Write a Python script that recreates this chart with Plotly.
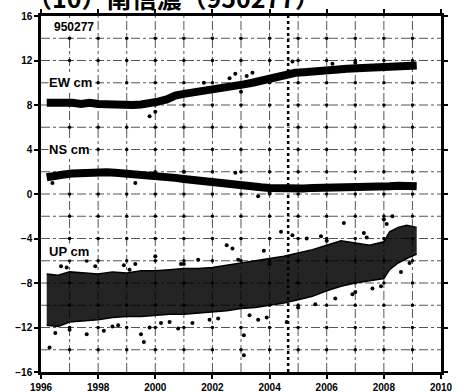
import plotly.graph_objects as go

# ---- data ----
title_text = "（10）南信濃（950277）"
station = "950277"

t_hz = [1996.2, 1996.5, 1996.8, 1997.1, 1997.4, 1997.7, 1998.0, 1998.3, 1998.6, 1998.9,
        1999.2, 1999.5, 1999.8, 2000.1, 2000.4, 2000.7, 2001.0, 2001.3, 2001.6, 2001.9,
        2002.2, 2002.5, 2002.8, 2003.1, 2003.4, 2003.7, 2004.0, 2004.3, 2004.6, 2004.9,
        2005.2, 2005.5, 2005.8, 2006.1, 2006.4, 2006.7, 2007.0, 2007.3, 2007.6, 2007.9,
        2008.2, 2008.5, 2008.8, 2009.15]
ew = [8.2, 8.25, 8.15, 8.2, 8.1, 8.2, 8.1, 8.05, 8.1, 8.0,
      8.0, 8.05, 8.1, 8.3, 8.5, 8.85, 9.0, 9.1, 9.25, 9.35,
      9.5, 9.6, 9.7, 9.85, 10.0, 10.2, 10.35, 10.55, 10.8, 10.9,
      10.95, 11.05, 11.0, 11.1, 11.2, 11.25, 11.3, 11.35, 11.4, 11.45,
      11.5, 11.6, 11.6, 11.55]
ns = [1.5, 1.7, 1.75, 1.85, 1.9, 2.0, 2.0, 1.95, 1.9, 1.85,
      1.85, 1.8, 1.7, 1.6, 1.5, 1.45, 1.35, 1.25, 1.2, 1.1,
      1.0, 0.95, 0.85, 0.75, 0.7, 0.6, 0.55, 0.5, 0.45, 0.5,
      0.5, 0.55, 0.55, 0.6, 0.6, 0.65, 0.65, 0.6, 0.65, 0.7,
      0.7, 0.75, 0.7, 0.7]

ew_out_t = [1999.8, 2000.0, 2001.7, 2002.8, 2003.2, 2003.4, 2004.8, 2006.2, 2007.0, 2003.0, 2002.6]
ew_out_v = [7.0, 7.4, 10.0, 10.8, 10.6, 10.9, 11.9, 11.7, 11.8, 9.2, 10.4]
ns_out_t = [1999.3, 2002.8, 2003.6, 2004.0, 1996.4, 2001.0]
ns_out_v = [1.0, 1.9, -0.2, 0.1, 1.0, 2.0]

t_up = [1996.2, 1996.6, 1997.0, 1997.5, 1998.0, 1998.5, 1999.0, 1999.5, 2000.0, 2000.5,
        2001.0, 2001.5, 2002.0, 2002.5, 2003.0, 2003.5, 2004.0, 2004.5, 2005.0, 2005.5,
        2006.0, 2006.5, 2007.0, 2007.5, 2008.0, 2008.2, 2008.5, 2008.8, 2009.15]
up_hi = [-7.2, -7.3, -7.0, -7.1, -7.2, -7.0, -7.1, -6.9, -6.9, -6.8,
         -6.7, -6.7, -6.6, -6.4, -6.2, -6.0, -5.8, -5.6, -5.3, -5.0,
         -4.6, -4.2, -4.4, -4.6, -4.3, -3.4, -3.0, -2.8, -3.0]
up_lo = [-11.8, -11.9, -11.5, -11.4, -11.3, -11.1, -11.0, -11.0, -10.9, -10.8,
         -10.8, -10.7, -10.6, -10.5, -10.3, -10.2, -10.0, -9.8, -9.5, -9.2,
         -8.7, -8.3, -8.0, -7.8, -7.6, -6.8, -6.2, -5.8, -5.4]
up_out_t = [1996.3, 1996.5, 1997.0, 1997.6, 1998.2, 1998.5, 1999.5, 1999.6, 1999.8, 2000.2,
            2000.8, 2001.3, 2003.1, 2003.1, 2003.6, 2003.9, 2004.6, 1997.4, 1997.5, 1997.6,
            1999.3, 2000.0, 2001.0, 2002.5, 2002.7, 2003.8, 2004.4, 2004.8, 2005.3, 2005.8,
            2006.0, 2006.6, 2007.3, 2008.0, 2008.3, 2008.1, 2001.5, 1998.9, 2004.0, 1996.9,
            1997.9, 1998.7, 2000.5, 2001.9, 2002.2, 2003.3, 2005.0, 2006.3, 2007.0, 2007.6,
            2007.9, 2008.6, 2008.9, 2005.6, 2006.9, 2007.4, 1996.7, 1999.1, 2000.9, 2002.9]
up_out_v = [-13.8, -12.5, -12.2, -12.6, -12.3, -11.9, -12.6, -13.3, -12.0, -11.6,
            -12.1, -11.6, -12.7, -14.5, -11.3, -11.1, -11.5, -5.2, -5.6, -6.0,
            -6.3, -5.6, -6.3, -4.6, -4.9, -5.1, -3.4, -3.7, -4.0, -3.8,
            -4.2, -2.6, -3.5, -2.3, -2.0, -2.7, -5.9, -6.4, -6.3, -6.6,
            -6.5, -11.8, -11.5, -11.3, -11.2, -10.9, -10.2, -9.4, -8.8, -8.5,
            -8.3, -7.0, -6.2, -9.9, -9.0, -3.9, -6.5, -6.8, -6.3, -5.9]

x_ticks = [1996, 1998, 2000, 2002, 2004, 2006, 2008, 2010]
y_ticks = [16, 12, 8, 4, 0, -4, -8, -12, -16]
x_grid = list(range(1996, 2011))
y_grid = list(range(-16, 17, 2))
event_t = 2004.65

fig = go.Figure()

# dash-dot grid drawn as shapes below the data
for xv in x_grid[1:-1]:
    fig.add_shape(type="line", x0=xv, x1=xv, y0=y_grid[0], y1=y_grid[-1], xref="x", yref="y",
                  line=dict(color="#555", width=1, dash="dashdot"), layer="below")
for yv in y_grid[1:-1]:
    fig.add_shape(type="line", x0=x_grid[0], x1=x_grid[-1], y0=yv, y1=yv, xref="x", yref="y",
                  line=dict(color="#555", width=1, dash="dashdot"), layer="below")

# grid intersection dots
gx, gy = [], []
for xv in x_grid[1:-1]:
    for yv in y_grid[1:-1]:
        gx.append(xv)
        gy.append(yv)
fig.add_trace(go.Scatter(x=gx, y=gy, mode="markers",
                         marker=dict(color="black", size=3.5), hoverinfo="skip"))

# UP band
fig.add_trace(go.Scatter(x=t_up, y=up_lo, mode="lines", line=dict(width=0, color="black"),
                         hoverinfo="skip"))
fig.add_trace(go.Scatter(x=t_up, y=up_hi, mode="lines", fill="tonexty",
                         fillcolor="rgba(0,0,0,0.86)", line=dict(width=1.5, color="black"),
                         hoverinfo="skip"))
fig.add_trace(go.Scatter(x=t_up, y=up_lo, mode="lines", line=dict(width=1.5, color="black"),
                         hoverinfo="skip"))
fig.add_trace(go.Scatter(x=up_out_t, y=up_out_v, mode="markers",
                         marker=dict(color="black", size=4), hoverinfo="skip"))

# EW / NS bands
fig.add_trace(go.Scatter(x=t_hz, y=ew, mode="lines", line=dict(color="black", width=8),
                         hoverinfo="skip"))
fig.add_trace(go.Scatter(x=t_hz, y=ns, mode="lines", line=dict(color="black", width=8),
                         hoverinfo="skip"))
fig.add_trace(go.Scatter(x=ew_out_t + ns_out_t, y=ew_out_v + ns_out_v, mode="markers",
                         marker=dict(color="black", size=4), hoverinfo="skip"))

# event line
fig.add_shape(type="line", x0=event_t, x1=event_t, y0=-16, y1=16, xref="x", yref="y",
              line=dict(color="black", width=2.5, dash="dot"))

lab_font = dict(family="Liberation Sans", size=13, color="black", weight="bold")
for txt, yv in [("EW cm", 10), ("NS cm", 4), ("UP cm", -5.2)]:
    fig.add_annotation(x=1996.25, y=yv, text=txt, showarrow=False, xanchor="left",
                       yanchor="middle", font=lab_font, bgcolor="white", borderpad=0)
fig.add_annotation(x=1996.4, y=15.0, text=station, showarrow=False, xanchor="left",
                   yanchor="middle", font=dict(family="Liberation Sans", size=12,
                                               color="black", weight="bold"),
                   bgcolor="white")

fig.add_annotation(x=0.0, y=1.0, xref="paper", yref="paper", xshift=-16, yshift=-1,
                   text=title_text, showarrow=False, xanchor="left", yanchor="bottom",
                   font=dict(family="Noto Sans CJK JP", size=25, color="black", weight="bold"))

axis_common = dict(showline=True, linecolor="black", linewidth=2.5, mirror="ticks",
                   ticks="outside", ticklen=4, tickwidth=1.5, tickcolor="black",
                   showgrid=False, zeroline=False, automargin=False,
                   tickfont=dict(family="Liberation Sans", size=10, color="black",
                                 weight="bold"))

fig.update_xaxes(range=[1996, 2010], tickvals=x_ticks, **axis_common)
fig.update_yaxes(range=[-16, 16], tickvals=y_ticks, **axis_common)

fig.update_layout(width=465, height=392, showlegend=False,
                  margin=dict(l=41, r=24, t=16, b=20),
                  plot_bgcolor="white", paper_bgcolor="white")

fig.write_html("out.html", config={"displayModeBar": False},
               post_script="document.body.style.margin='0';document.body.style.overflow='hidden';")
